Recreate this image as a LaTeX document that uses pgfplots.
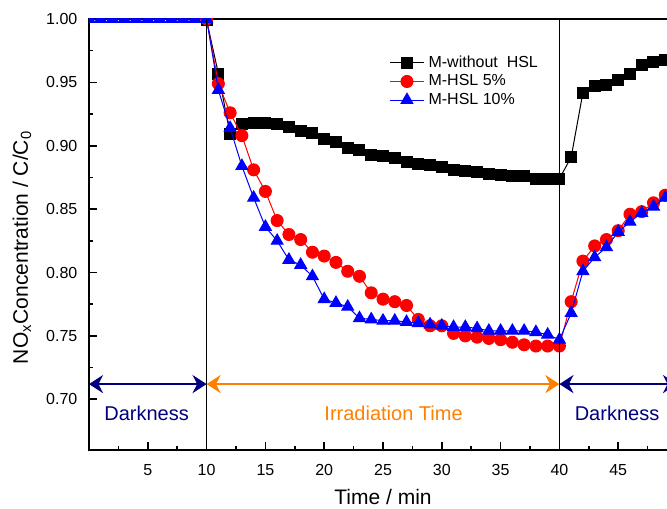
\documentclass[border=0pt]{standalone}
\usepackage{fontspec}
\setmainfont{Liberation Sans}
\usepackage{pgfplots}
\pgfplotsset{compat=1.18}
\usetikzlibrary{arrows.meta}
\definecolor{darkblue}{RGB}{0,0,128}
\definecolor{irrorange}{RGB}{255,128,0}

\begin{document}
\begin{tikzpicture}
\useasboundingbox (-44.5pt,-29pt) rectangle (289pt,225pt);
\clip (-44.5pt,-29pt) rectangle (289pt,225pt);
\begin{axis}[
  at={(0pt,0pt)}, anchor=south west,
  scale only axis,
  width=294pt, height=215.5pt,
  xmin=0, xmax=50, ymin=0.66, ymax=1.0,
  xtick={5,10,15,20,25,30,35,40,45},
  minor xtick={2.5,7.5,12.5,17.5,22.5,27.5,32.5,37.5,42.5,47.5},
  ytick={0.70,0.75,0.80,0.85,0.90,0.95,1.00},
  minor y tick num=1,
  tick pos=left, tick align=inside,
  major tick length=4pt, minor tick length=2pt,
  axis line style={line width=0.9pt},
  every tick/.style={black, line width=0.8pt},
  clip marker paths=true,
  /pgf/number format/assume math mode=true,
  yticklabel style={/pgf/number format/fixed, /pgf/number format/fixed zerofill,
    /pgf/number format/precision=2, xshift=-2.3pt},
  tick label style={font=\fontsize{8}{9.6}\selectfont},
  xticklabel style={anchor=base, yshift=-12.5pt},
  xlabel={Time / min},
  ylabel={NO\textsubscript{x}Concentration / C/C\textsubscript{0}},
  label style={font=\fontsize{10.5}{12}\selectfont},
  xlabel style={at={(axis description cs:0.5,0)}, anchor=base, yshift=-27pt},
  ylabel style={at={(axis description cs:-0.114,0.47)}, anchor=center},
  legend style={draw=none, fill=none, at={(axis description cs:0.50,0.935)}, anchor=north west,
    font=\fontsize{8}{9.6}\selectfont, row sep=-1.8pt},
  legend cell align=left,
]
\addplot[black, line width=0.5pt, mark=square*, mark size=2.75pt] coordinates {
(0,1.003)(1,1.003)(2,1.003)(3,1.003)(4,1.003)(5,1.003)(6,1.003)(7,1.003)(8,1.003)(9,1.003)(10,0.999)
(11,0.957)(12,0.909)(13,0.917)(14,0.918)(15,0.918)(16,0.917)(17,0.915)(18,0.912)(19,0.910)(20,0.905)
(21,0.903)(22,0.898)(23,0.897)(24,0.893)(25,0.892)(26,0.890)(27,0.887)(28,0.886)(29,0.885)(30,0.883)
(31,0.881)(32,0.880)(33,0.879)(34,0.878)(35,0.877)(36,0.876)(37,0.876)(38,0.874)(39,0.874)(40,0.874)
(41,0.891)(42,0.942)(43,0.947)(44,0.948)(45,0.952)(46,0.957)(47,0.964)(48,0.966)(49,0.968)(50,0.969)};
\addplot[red, line width=0.5pt, mark=*, mark size=3pt] coordinates {
(0,1.002)(1,1.002)(2,1.002)(3,1.002)(4,1.002)(5,1.002)(6,1.002)(7,1.002)(8,1.002)(9,1.002)(10,1.0)
(11,0.949)(12,0.926)(13,0.908)(14,0.881)(15,0.864)(16,0.841)(17,0.830)(18,0.826)(19,0.816)(20,0.813)
(21,0.808)(22,0.801)(23,0.797)(24,0.784)(25,0.779)(26,0.777)(27,0.774)(28,0.763)(29,0.758)(30,0.758)
(31,0.752)(32,0.750)(33,0.749)(34,0.748)(35,0.747)(36,0.745)(37,0.743)(38,0.742)(39,0.742)(40,0.742)
(41,0.777)(42,0.809)(43,0.821)(44,0.826)(45,0.833)(46,0.846)(47,0.848)(48,0.855)(49,0.861)(50,0.866)};
\addplot[blue, line width=0.5pt, mark=triangle*, mark size=3.4pt] coordinates {
(0,1.0)(1,1.0)(2,1.0)(3,1.0)(4,1.0)(5,1.0)(6,1.0)(7,1.0)(8,1.0)(9,1.0)(10,1.0)
(11,0.944)(12,0.914)(13,0.884)(14,0.859)(15,0.836)(16,0.825)(17,0.810)(18,0.806)(19,0.797)(20,0.779)
(21,0.776)(22,0.773)(23,0.764)(24,0.763)(25,0.762)(26,0.762)(27,0.761)(28,0.760)(29,0.759)(30,0.758)
(31,0.757)(32,0.757)(33,0.756)(34,0.754)(35,0.754)(36,0.754)(37,0.754)(38,0.753)(39,0.751)(40,0.747)
(41,0.768)(42,0.801)(43,0.812)(44,0.820)(45,0.832)(46,0.840)(47,0.847)(48,0.852)(49,0.859)(50,0.864)};
\legend{M-without\ \ HSL, M-HSL 5\%, M-HSL 10\%}

% period markers
\draw[black, line width=0.5pt] (axis cs:10,0.66) -- (axis cs:10,1.0);
\draw[black, line width=0.5pt] (axis cs:40,0.66) -- (axis cs:40,1.0);
\draw[darkblue, line width=1.2pt, {Stealth[length=7pt,width=9pt]}-{Stealth[length=7pt,width=9pt]}]
  (axis cs:0,0.712) -- (axis cs:10,0.712);
\draw[irrorange, line width=1.2pt, {Stealth[length=7pt,width=9pt]}-{Stealth[length=7pt,width=9pt]}]
  (axis cs:10,0.712) -- (axis cs:40,0.712);
\draw[darkblue, line width=1.2pt, {Stealth[length=7pt,width=9pt]}-{Stealth[length=7pt,width=9pt]}]
  (axis cs:40,0.712) -- (axis cs:50,0.712);
\node[text=darkblue, font=\fontsize{10}{12}\selectfont] at (axis cs:4.9,0.689) {Darkness};
\node[text=irrorange, font=\fontsize{10}{12}\selectfont] at (axis cs:25.9,0.689) {Irradiation Time};
\node[text=darkblue, font=\fontsize{10}{12}\selectfont] at (axis cs:44.9,0.689) {Darkness};
\end{axis}
\end{tikzpicture}
\end{document}
